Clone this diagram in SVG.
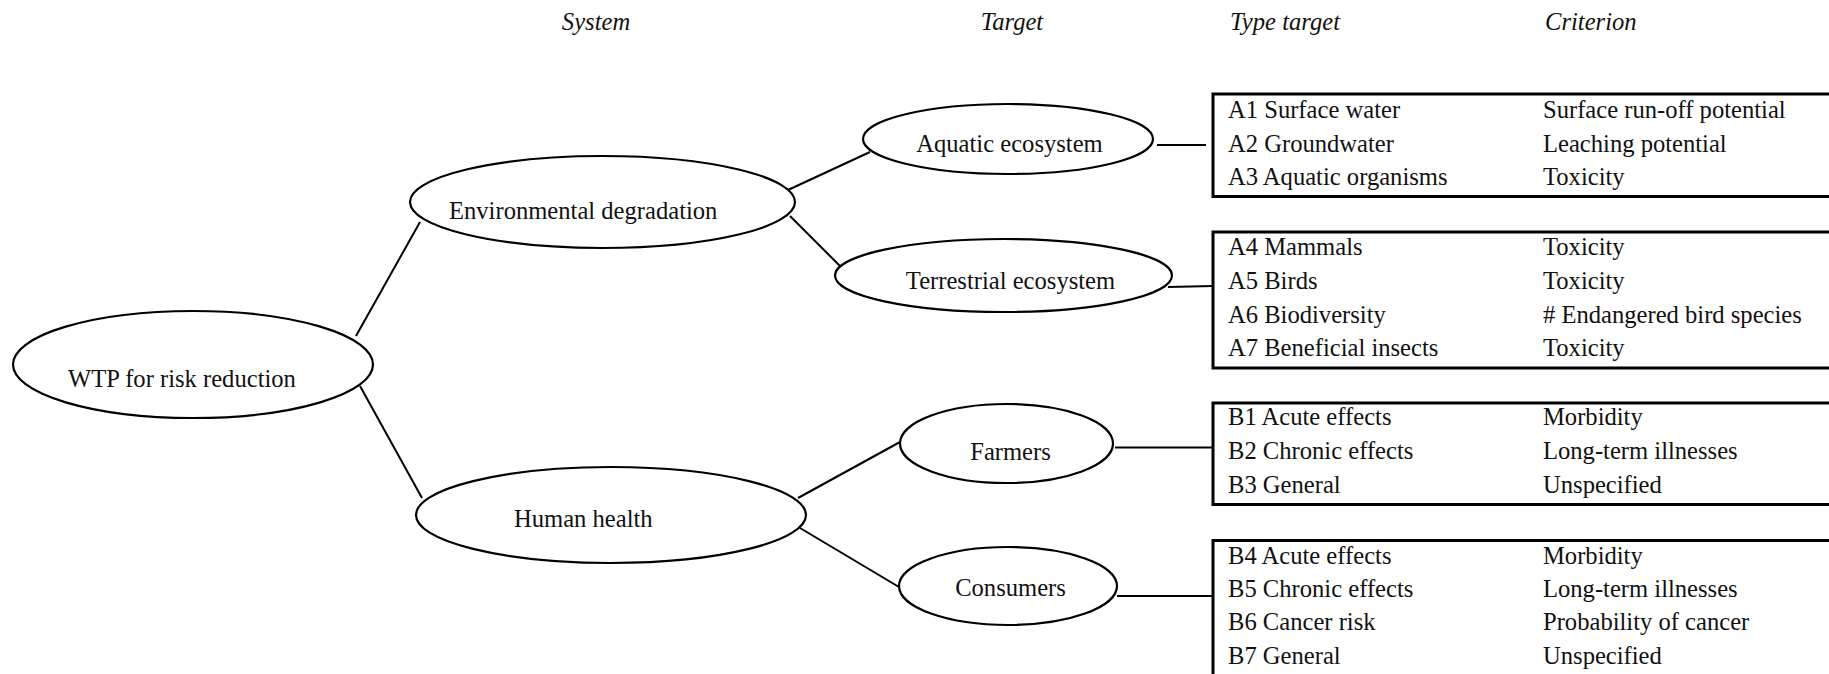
<svg xmlns="http://www.w3.org/2000/svg" width="1829" height="674" viewBox="0 0 1829 674">
  <style>
    text { font-family: "Liberation Serif", "Times New Roman", serif; font-size: 24.6px; fill: #111; }
    .head { font-style: italic; }
    .mid { text-anchor: middle; }
    .node ellipse { fill: #fff; stroke: #000; stroke-width: 2.2; }
    .box rect { fill: #fff; stroke: #000; stroke-width: 3; }
    .links line { stroke: #000; stroke-width: 2; }
  </style>
  <rect width="1829" height="674" fill="#fff"/>

  <!-- column headings -->
  <g id="headings">
    <text class="head mid" x="596" y="29.5">System</text>
    <text class="head mid" x="1012" y="29.5">Target</text>
    <text class="head" x="1230" y="29.5">Type target</text>
    <text class="head" x="1545" y="29.5">Criterion</text>
  </g>

  <!-- connectors -->
  <g id="connectors" class="links">
    <line x1="356" y1="336" x2="420" y2="222"/>
    <line x1="360" y1="386" x2="422" y2="498"/>
    <line x1="788" y1="190" x2="870" y2="152"/>
    <line x1="790" y1="216" x2="841" y2="267"/>
    <line x1="798" y1="498" x2="900" y2="442"/>
    <line x1="800" y1="528" x2="899" y2="587"/>
    <line x1="1157" y1="145" x2="1206" y2="145"/>
    <line x1="1168" y1="287" x2="1213" y2="286"/>
    <line x1="1115" y1="447.5" x2="1213" y2="447.5"/>
    <line x1="1117" y1="596" x2="1213" y2="596"/>
  </g>

  <!-- tree nodes -->
  <g id="wtp" class="node">
    <ellipse cx="193" cy="364.5" rx="180" ry="53.5"/>
    <text x="68" y="386.5">WTP for risk reduction</text>
  </g>
  <g id="env" class="node">
    <ellipse cx="602.5" cy="202" rx="192.5" ry="46"/>
    <text x="449" y="218.5">Environmental degradation</text>
  </g>
  <g id="health" class="node">
    <ellipse cx="611" cy="515" rx="195" ry="48"/>
    <text x="514" y="526.5">Human health</text>
  </g>
  <g id="aquatic" class="node">
    <ellipse cx="1008" cy="139" rx="145" ry="35"/>
    <text class="mid" x="1009.5" y="151.5">Aquatic ecosystem</text>
  </g>
  <g id="terrestrial" class="node">
    <ellipse cx="1003.5" cy="275.5" rx="168.5" ry="36.5"/>
    <text class="mid" x="1010.5" y="288.5">Terrestrial ecosystem</text>
  </g>
  <g id="farmers" class="node">
    <ellipse cx="1006.5" cy="443.5" rx="106.5" ry="39.5"/>
    <text class="mid" x="1010.5" y="459.5">Farmers</text>
  </g>
  <g id="consumers" class="node">
    <ellipse cx="1008" cy="586" rx="109" ry="39"/>
    <text class="mid" x="1010.5" y="595.5">Consumers</text>
  </g>

  <!-- type target / criterion tables -->
  <g id="box-aquatic" class="box">
    <rect x="1213" y="94" width="640" height="102.5"/>
    <text x="1228" y="117.5">A1 Surface water</text>
    <text x="1543" y="117.5">Surface run-off potential</text>
    <text x="1228" y="151.5">A2 Groundwater</text>
    <text x="1543" y="151.5">Leaching potential</text>
    <text x="1228" y="184.5">A3 Aquatic organisms</text>
    <text x="1543" y="184.5">Toxicity</text>
  </g>
  <g id="box-terrestrial" class="box">
    <rect x="1213" y="232" width="640" height="136"/>
    <text x="1228" y="254.5">A4 Mammals</text>
    <text x="1543" y="254.5">Toxicity</text>
    <text x="1228" y="288.5">A5 Birds</text>
    <text x="1543" y="288.5">Toxicity</text>
    <text x="1228" y="322.5">A6 Biodiversity</text>
    <text x="1543" y="322.5"># Endangered bird species</text>
    <text x="1228" y="355.5">A7 Beneficial insects</text>
    <text x="1543" y="355.5">Toxicity</text>
  </g>
  <g id="box-farmers" class="box">
    <rect x="1213" y="403" width="640" height="101.5"/>
    <text x="1228" y="424.5">B1 Acute effects</text>
    <text x="1543" y="424.5">Morbidity</text>
    <text x="1228" y="458.5">B2 Chronic effects</text>
    <text x="1543" y="458.5">Long-term illnesses</text>
    <text x="1228" y="492.5">B3 General</text>
    <text x="1543" y="492.5">Unspecified</text>
  </g>
  <g id="box-consumers" class="box">
    <rect x="1213" y="540.5" width="640" height="160"/>
    <text x="1228" y="563.5">B4 Acute effects</text>
    <text x="1543" y="563.5">Morbidity</text>
    <text x="1228" y="596.5">B5 Chronic effects</text>
    <text x="1543" y="596.5">Long-term illnesses</text>
    <text x="1228" y="629.5">B6 Cancer risk</text>
    <text x="1543" y="629.5">Probability of cancer</text>
    <text x="1228" y="663.5">B7 General</text>
    <text x="1543" y="663.5">Unspecified</text>
  </g>
</svg>
